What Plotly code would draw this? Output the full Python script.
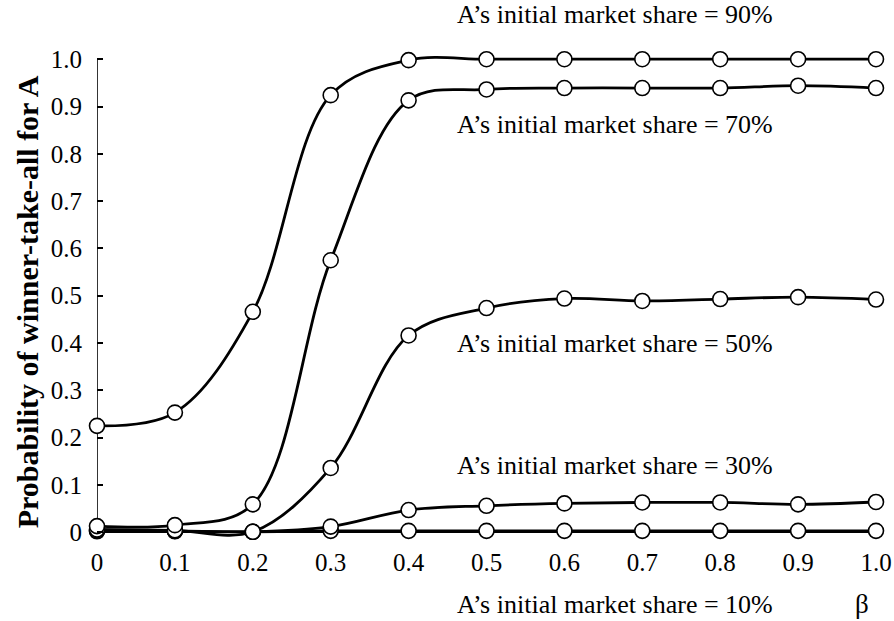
import plotly.graph_objects as go

beta = [0, 0.1, 0.2, 0.3, 0.4, 0.5, 0.6, 0.7, 0.8, 0.9, 1.0]
share90 = [0.225, 0.253, 0.466, 0.924, 0.998, 1.0, 1.0, 1.0, 1.0, 1.0, 1.0]
share70 = [0.013, 0.015, 0.059, 0.575, 0.913, 0.936, 0.939, 0.939, 0.939, 0.944, 0.939]
share50 = [0.006, 0.004, 0.001, 0.136, 0.416, 0.474, 0.494, 0.489, 0.493, 0.497, 0.492]
share30 = [0.004, 0.003, 0.001, 0.012, 0.047, 0.056, 0.061, 0.063, 0.063, 0.059, 0.064]
share10 = [0.002, 0.002, 0.001, 0.003, 0.003, 0.003, 0.003, 0.003, 0.003, 0.003, 0.003]

series = [("10%", share10), ("30%", share30), ("50%", share50), ("70%", share70), ("90%", share90)]
# label positions in data units (beta, probability)
labels = [("90%", 0.665, 1.095), ("70%", 0.665, 0.862), ("50%", 0.665, 0.400),
          ("30%", 0.665, 0.142), ("10%", 0.665, -0.152)]

xticks = [0, 0.1, 0.2, 0.3, 0.4, 0.5, 0.6, 0.7, 0.8, 0.9, 1.0]
xticktext = ["0", "0.1", "0.2", "0.3", "0.4", "0.5", "0.6", "0.7", "0.8", "0.9", "1.0"]
yticks = [0, 0.1, 0.2, 0.3, 0.4, 0.5, 0.6, 0.7, 0.8, 0.9, 1.0]
yticktext = ["0", "0.1", "0.2", "0.3", "0.4", "0.5", "0.6", "0.7", "0.8", "0.9", "1.0"]
ytitle = "<b>Probability of winner-take-all for A</b>"

FONT = "Liberation Serif"
YMIN, YMAX = -0.01, 1.03


def to_paper(v):
    return (v - YMIN) / (YMAX - YMIN)


fig = go.Figure()
for name, vals in series:
    fig.add_trace(go.Scatter(
        x=beta, y=vals, mode="lines+markers", name=name,
        line=dict(color="black", width=2.8, shape="spline", smoothing=1.0),
        marker=dict(symbol="circle", size=15, color="white",
                    line=dict(color="black", width=1.6)),
        cliponaxis=False, showlegend=False, hoverinfo="skip",
    ))

for pct, lx, ly in labels:
    fig.add_annotation(x=lx, y=to_paper(ly), xref="x", yref="paper",
                       xanchor="center", yanchor="middle",
                       text="A\u2019s initial market share = " + pct,
                       showarrow=False, font=dict(family=FONT, size=26, color="black"))
fig.add_annotation(x=0.982, y=to_paper(-0.152), xref="x", yref="paper", text="\u03b2",
                   xanchor="center", yanchor="middle",
                   showarrow=False, font=dict(family=FONT, size=27, color="black"))
# y-axis title as rotated annotation
fig.add_annotation(x=0, y=to_paper(0.486), xref="paper", yref="paper", text=ytitle,
                   textangle=-90, showarrow=False, xanchor="center", yanchor="middle",
                   xshift=-70, font=dict(family=FONT, size=30, color="black"))

# axis lines spanning exactly 0..1
fig.add_shape(type="line", xref="x", yref="y", x0=0, x1=0, y0=0, y1=1,
              line=dict(color="black", width=1.6), layer="below")
fig.add_shape(type="line", xref="x", yref="y", x0=0, x1=1, y0=0, y1=0,
              line=dict(color="black", width=1.6), layer="below")

fig.update_layout(
    width=894, height=621,
    margin=dict(l=97, r=18, t=45, b=84),
    paper_bgcolor="white", plot_bgcolor="white",
    font=dict(family=FONT, size=21, color="black"),
)
fig.update_xaxes(range=[0, 1], tickvals=xticks, ticktext=xticktext,
                 showline=False, showgrid=False, zeroline=False, ticks="",
                 automargin=False, ticklabelstandoff=8, ticklabeloverflow="allow",
                 tickfont=dict(family=FONT, size=25))
fig.update_yaxes(range=[YMIN, YMAX], tickvals=yticks, ticktext=yticktext,
                 showline=False, showgrid=False, zeroline=False,
                 ticks="inside", ticklen=6, tickwidth=1.5, tickcolor="black",
                 automargin=False, ticklabelstandoff=14,
                 tickfont=dict(family=FONT, size=25))

fig.write_html("out.html", config={"displayModeBar": False},
               post_script="document.body.style.margin='0';document.body.style.overflow='hidden';")
